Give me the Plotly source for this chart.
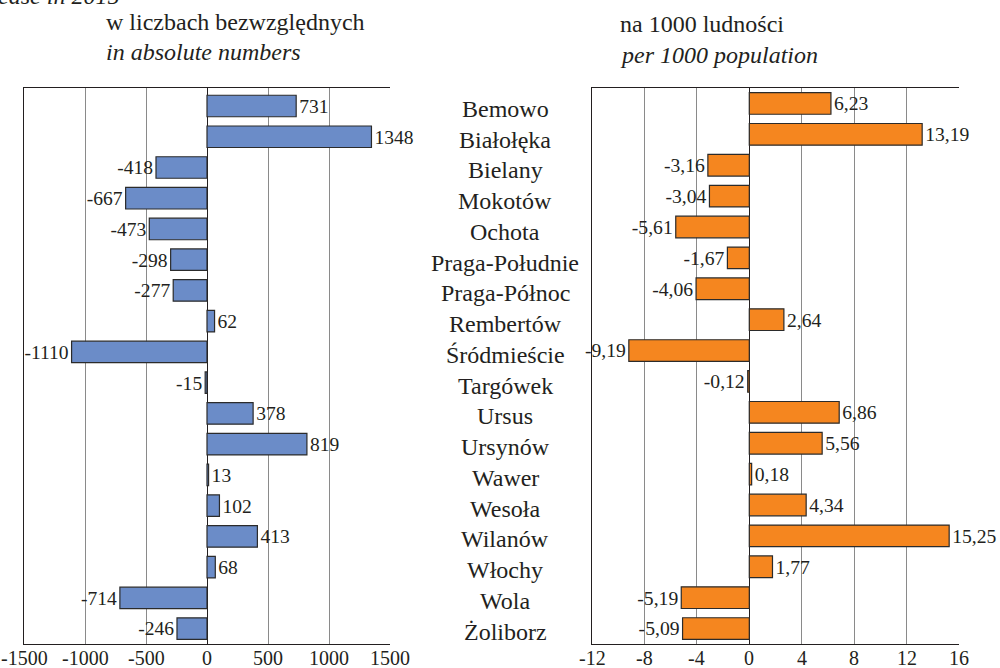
import plotly.graph_objects as go

districts = ["Bemowo", "Białołęka", "Bielany", "Mokotów", "Ochota", "Praga-Południe",
             "Praga-Północ", "Rembertów", "Śródmieście", "Targówek", "Ursus", "Ursynów",
             "Wawer", "Wesoła", "Wilanów", "Włochy", "Wola", "Żoliborz"]
absolute = [731, 1348, -418, -667, -473, -298, -277, 62, -1110, -15, 378, 819, 13, 102, 413, 68, -714, -246]
per1000 = [6.23, 13.19, -3.16, -3.04, -5.61, -1.67, -4.06, 2.64, -9.19, -0.12, 6.86, 5.56, 0.18, 4.34, 15.25, 1.77, -5.19, -5.09]
abs_ticks = [-1500, -1000, -500, 0, 500, 1000, 1500]
rel_ticks = [-12, -8, -4, 0, 4, 8, 12, 16]

FONT = "Liberation Serif"
W, H = 1000, 668
top_px, bot_px = 88, 644
ydom = [1 - bot_px / H, 1 - top_px / H]

fig = go.Figure()
fig.add_trace(go.Bar(
    y=districts, x=absolute, orientation="h", xaxis="x", yaxis="y",
    marker=dict(color="#6B8CC8", line=dict(color="#2b2b2b", width=1.2)),
    width=0.7, text=[str(v) for v in absolute], textposition="outside",
    textfont=dict(family=FONT, size=20, color="#231f20"), cliponaxis=False,
))
fig.add_trace(go.Bar(
    y=districts, x=per1000, orientation="h", xaxis="x2", yaxis="y2",
    marker=dict(color="#F5861F", line=dict(color="#2b2b2b", width=1.2)),
    width=0.7, text=[f"{v:.2f}".replace(".", ",") for v in per1000], textposition="outside",
    textfont=dict(family=FONT, size=20, color="#231f20"), cliponaxis=False,
))

axis_common = dict(showgrid=True, gridcolor="#8a8a8a", gridwidth=1,
                   showline=True, linecolor="#231f20", linewidth=1.2, mirror=True,
                   ticks="", automargin=False, showticklabels=False,
                   zeroline=True, zerolinecolor="#231f20", zerolinewidth=1.2)
yaxis_common = dict(domain=ydom, categoryorder="array", categoryarray=districts,
                    autorange="reversed", showticklabels=False, showgrid=False,
                    showline=True, linecolor="#231f20", linewidth=1.2, automargin=False)
fig.update_layout(
    width=W, height=H, margin=dict(l=0, r=0, t=0, b=0, pad=0),
    paper_bgcolor="white", plot_bgcolor="white", showlegend=False,
    xaxis=dict(domain=[24 / W, 390 / W], range=[-1500, 1500], tickvals=abs_ticks,
               anchor="y", **axis_common),
    xaxis2=dict(domain=[592 / W, 959 / W], range=[-12, 16], tickvals=rel_ticks,
                anchor="y2", **axis_common),
    yaxis=dict(anchor="x", **yaxis_common),
    yaxis2=dict(anchor="x2", **yaxis_common),
)

anns = []
for d in districts:
    anns.append(dict(x=505 / W, xref="paper", y=d, yref="y", text=d, showarrow=False,
                     xanchor="center", yanchor="middle", yshift=-3,
                     font=dict(family=FONT, size=24, color="#231f20")))
tick_y = 1 - 645 / H
for xr, ticks in (("x", abs_ticks), ("x2", rel_ticks)):
    for t in ticks:
        anns.append(dict(x=t, xref=xr, y=tick_y, yref="paper", text=str(t), showarrow=False,
                         xanchor="center", yanchor="top",
                         font=dict(family=FONT, size=20, color="#231f20")))
titles = [
    (104, 22, "w liczbach bezwzględnych"),
    (104, 52, "<i>in absolute numbers</i>"),
    (618, 24, "na 1000 ludności"),
    (618, 55, "<i>per 1000 population</i>"),
]
for x, y, t in titles:
    anns.append(dict(x=x / W, xref="paper", y=1 - y / H, yref="paper", text=t,
                     showarrow=False, xanchor="left", yanchor="middle",
                     font=dict(family=FONT, size=24, color="#231f20")))
anns.append(dict(x=-44 / W, xref="paper", y=1 + 4 / H, yref="paper",
                 text="<i>Increase in 2015</i>", showarrow=False, xanchor="left",
                 yanchor="middle", font=dict(family=FONT, size=24, color="#231f20")))
fig.update_layout(annotations=anns)

fig.write_html("out.html", config={"displayModeBar": False},
               post_script="document.body.style.margin='0';document.body.style.overflow='hidden';")
